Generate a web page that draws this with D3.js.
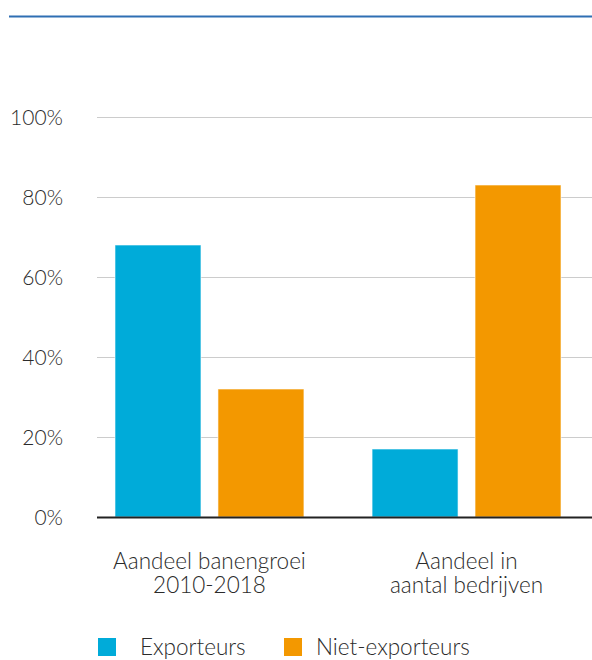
<!DOCTYPE html>
<html>
<head>
<meta charset="utf-8">
<script src="https://cdn.jsdelivr.net/npm/d3@7"></script>
<style>
  body { margin: 0; background: #fff; }
  svg { display: block; font-family: Lato, "Open Sans", sans-serif; font-weight: 300; }
</style>
</head>
<body>
<div id="chart"></div>
<script>
// data
const categories = [["Aandeel banengroei", "2010-2018"], ["Aandeel in", "aantal bedrijven"]];
const seriesNames = ["Exporteurs", "Niet-exporteurs"];
const exporteurs = [68, 17];
const nietExporteurs = [32, 83];
const yTicks = [0, 20, 40, 60, 80, 100];

const colors = ["#00abd9", "#f39800"];

const svg = d3.select("#chart")
    .append("svg")
    .attr("width", 592)
    .attr("height", 660);

// blue rule at the top
svg.append("line")
    .attr("x1", 9).attr("x2", 592)
    .attr("y1", 16.5).attr("y2", 16.5)
    .attr("stroke", "#2f6fb3")
    .attr("stroke-width", 2);

const margin = { left: 97, right: 592, top: 117, bottom: 517 };

const y = d3.scaleLinear()
    .domain([0, 100])
    .range([margin.bottom, margin.top]);

const x = d3.scaleBand()
    .domain(d3.range(categories.length))
    .range([margin.left, 579])
    .paddingInner(0.265)
    .paddingOuter(0.07);

const xSub = d3.scaleBand()
    .domain(seriesNames)
    .range([0, x.bandwidth()])
    .paddingInner(0.165);

// gridlines + tick labels
svg.append("g")
    .selectAll("line")
    .data(yTicks.filter(d => d > 0))
    .join("line")
    .attr("x1", margin.left).attr("x2", 592)
    .attr("y1", d => y(d) + 0.5).attr("y2", d => y(d) + 0.5)
    .attr("stroke", "#cccccc")
    .attr("stroke-width", 1);

svg.append("g")
    .selectAll("text")
    .data(yTicks)
    .join("text")
    .attr("x", 63)
    .attr("y", d => y(d) + 8)
    .attr("text-anchor", "end")
    .attr("font-size", 21)
    .attr("fill", "#2b2b2b")
    .text(d => d + "%");

// bars
const rows = categories.map((c, i) => ({ i, values: [exporteurs[i], nietExporteurs[i]] }));

svg.append("g")
    .selectAll("g")
    .data(rows)
    .join("g")
    .attr("transform", d => `translate(${x(d.i)},0)`)
    .selectAll("rect")
    .data(d => d.values.map((v, k) => ({ key: seriesNames[k], value: v, k })))
    .join("rect")
    .attr("x", d => xSub(d.key))
    .attr("y", d => y(d.value))
    .attr("width", xSub.bandwidth())
    .attr("height", d => y(0) - y(d.value))
    .attr("fill", d => colors[d.k])
    .attr("stroke", "#fff")
    .attr("stroke-opacity", 0.6)
    .attr("stroke-width", 1);

// baseline
svg.append("line")
    .attr("x1", margin.left).attr("x2", 592)
    .attr("y1", y(0) + 0.5).attr("y2", y(0) + 0.5)
    .attr("stroke", "#222")
    .attr("stroke-width", 2);

// category labels
svg.append("g")
    .selectAll("text")
    .data(categories)
    .join("text")
    .attr("x", (d, i) => x(i) + x.bandwidth() / 2)
    .attr("y", 569)
    .attr("text-anchor", "middle")
    .attr("font-size", 22.5)
    .attr("fill", "#2b2b2b")
    .selectAll("tspan")
    .data(d => d)
    .join("tspan")
    .attr("x", function () { return d3.select(this.parentNode).attr("x"); })
    .attr("dy", (d, j) => j === 0 ? 0 : 24)
    .text(d => d);

// legend
const legendX = [98, 284];
const legend = svg.append("g")
    .selectAll("g")
    .data(seriesNames)
    .join("g")
    .attr("transform", (d, i) => `translate(${legendX[i]},638)`);

legend.append("rect")
    .attr("width", 18)
    .attr("height", 18)
    .attr("fill", (d, i) => colors[i]);

legend.append("text")
    .attr("x", (d, i) => i === 0 ? 42 : 32)
    .attr("y", 17)
    .attr("font-size", 22.5)
    .attr("fill", "#2b2b2b")
    .text(d => d);
</script>
</body>
</html>
